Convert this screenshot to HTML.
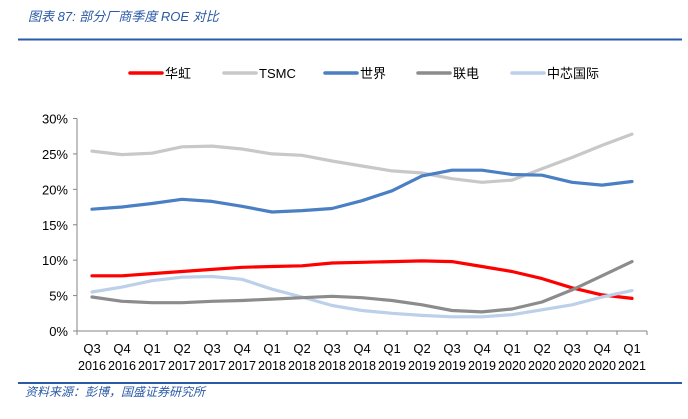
<!DOCTYPE html>
<html><head><meta charset="utf-8"><style>
body{margin:0;background:#fff;width:688px;height:414px;overflow:hidden;font-family:"Liberation Sans","Noto Sans CJK SC",sans-serif}
</style></head><body>
<svg width="688" height="414" xmlns="http://www.w3.org/2000/svg" id="svg">
<text x="28" y="21" font-size="13" font-style="italic" fill="#2a59a6" font-family="Liberation Sans,Noto Sans CJK SC,sans-serif">图表 87:  部分厂商季度 ROE 对比</text>
<line x1="18" y1="39.5" x2="682" y2="39.5" stroke="#2a5aa8" stroke-width="2"/>
<line x1="18" y1="383" x2="682" y2="383" stroke="#2a5aa8" stroke-width="2"/>
<text x="25" y="396" font-size="12" font-style="italic" fill="#2a59a6">资料来源：彭博，国盛证券研究所</text>
<g id="legend"></g>
<g id="axes"></g>
<g id="series"></g>
</svg>
<script>
const categories=["Q3 2016","Q4 2016","Q1 2017","Q2 2017","Q3 2017","Q4 2017","Q1 2018","Q2 2018","Q3 2018","Q4 2018","Q1 2019","Q2 2019","Q3 2019","Q4 2019","Q1 2020","Q2 2020","Q3 2020","Q4 2020","Q1 2021"];
const yTicks=[0,5,10,15,20,25,30];
const seriesNames=["华虹","TSMC","世界","联电","中芯国际"];
const huahong=[7.8,7.8,8.1,8.4,8.7,9.0,9.1,9.2,9.6,9.7,9.8,9.9,9.8,9.1,8.4,7.4,6.1,5.1,4.6];
const tsmc=[25.4,24.9,25.1,26.0,26.1,25.7,25.0,24.8,24.0,23.3,22.6,22.3,21.5,21.0,21.3,22.9,24.5,26.2,27.8];
const vis=[17.2,17.5,18.0,18.6,18.3,17.6,16.8,17.0,17.3,18.4,19.8,21.9,22.7,22.7,22.1,22.0,21.0,20.6,21.1];
const umc=[4.8,4.2,4.0,4.0,4.2,4.3,4.5,4.7,4.9,4.7,4.3,3.7,2.9,2.7,3.1,4.1,5.8,7.8,9.8];
const smic=[5.5,6.2,7.1,7.6,7.7,7.3,5.9,4.8,3.6,2.9,2.5,2.2,2.0,2.0,2.3,3.0,3.7,4.8,5.7];
const colors=["#ff0000","#c8c8c8","#4a7fc4","#8c8c8c","#bcd0ea"];
const NS="http://www.w3.org/2000/svg";
const L=77,R=647,T=118.5,B=331,yMax=30;
const bw=(R-L)/categories.length;
const x=i=>L+bw*(i+0.5);
const y=v=>B-(v/yMax)*(B-T);
function mk(tag,attrs,parent){const e=document.createElementNS(NS,tag);for(const k in attrs)e.setAttribute(k,attrs[k]);parent.appendChild(e);return e;}
const axes=document.getElementById('axes');
let a=mk('line',{x1:L,y1:T,x2:L,y2:B,stroke:'#868686'},axes);


a=mk('line',{x1:L,y1:B,x2:R,y2:B,stroke:'#868686'},axes);


yTicks.forEach(v=>{
 const t=mk('line',{x1:L-4,y1:y(v),x2:L,y2:y(v),stroke:'#868686'},axes);
 
 
 const tx=mk('text',{x:L-9,y:y(v)+5,'font-size':13,'text-anchor':'end',fill:'#000'},axes);
 tx.textContent=v+'%';
 
 
});
for(let i=0;i<=categories.length;i++){
 const t=mk('line',{x1:L+bw*i,y1:B,x2:L+bw*i,y2:B+4,stroke:'#868686'},axes);
 
 
}
categories.forEach((c,i)=>{
 const p=c.split(' ');
 const tx=mk('text',{x:x(i),y:353,'font-size':13,'text-anchor':'middle',fill:'#000'},axes);
 tx.textContent=p[0];
 
 
 const ty=mk('text',{x:x(i)-14,y:370,'font-size':12.5,textLength:28,lengthAdjust:'spacingAndGlyphs',fill:'#000'},axes);
 ty.textContent=p[1];
 
 
});
const data=[huahong,tsmc,vis,umc,smic];
const sg=document.getElementById('series');
const order=[1,2,0,4,3];
order.forEach(k=>{
 const d=data[k].map((v,i)=>(i?'L':'M')+x(i).toFixed(1)+','+y(v).toFixed(1)).join('');
 const p=mk('path',{d:d,fill:'none',stroke:colors[k],'stroke-width':3.2,'stroke-linejoin':'round','stroke-linecap':'round'},sg);
 
 
});
const lg=document.getElementById('legend');
const lx=[130,224,325,418,512];
seriesNames.forEach((n,k)=>{
 const l=mk('line',{x1:lx[k],y1:73,x2:lx[k]+32,y2:73,stroke:colors[k],'stroke-width':3.5,'stroke-linecap':'round'},lg);
 
 
 const t=mk('text',{x:lx[k]+35,y:78,'font-size':13,fill:'#000'},lg);
 t.textContent=n;
 
 
});
</script>
</body></html>
